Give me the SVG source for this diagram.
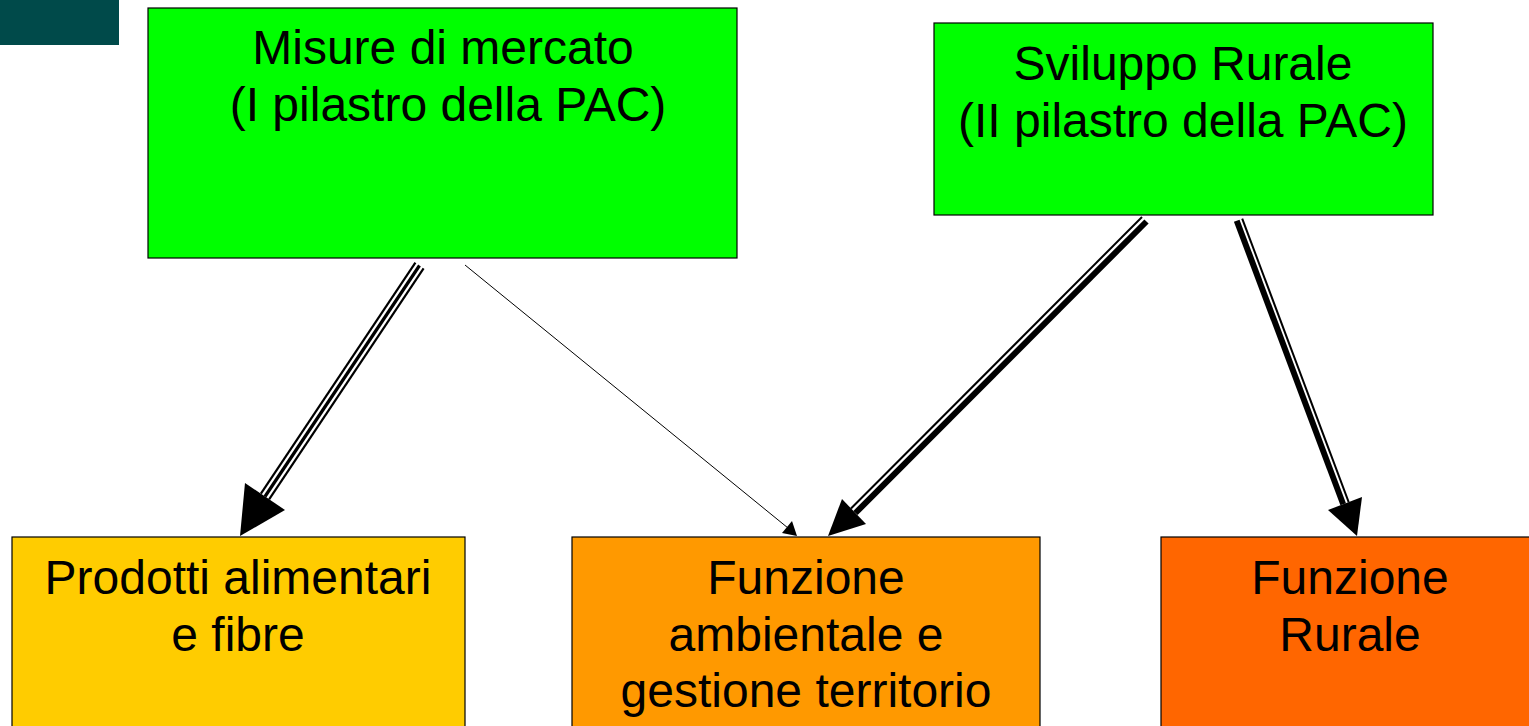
<svg xmlns="http://www.w3.org/2000/svg" width="1529" height="726" viewBox="0 0 1529 726">
<style>
.box{stroke:#000;stroke-width:1.2}
.t{font-family:"Liberation Sans",Arial,sans-serif;font-size:48px;fill:#000;text-anchor:middle}
.ln{stroke:#000;fill:none;stroke-linecap:butt}
</style>
<rect width="1529" height="726" fill="#fff"/>
<rect x="0" y="0" width="119" height="45" fill="#004a4a"/>
<g id="n1">
<rect class="box" x="148" y="8" width="589" height="250" fill="#00ff00"/>
<text class="t" x="443" y="64">Misure di mercato</text>
<text class="t" x="448" y="121">(I pilastro della PAC)</text>
</g>
<g id="n2">
<rect class="box" x="934" y="23" width="499" height="192" fill="#00ff00"/>
<text class="t" x="1183" y="80">Sviluppo Rurale</text>
<text class="t" x="1183" y="137">(II pilastro della PAC)</text>
</g>
<g id="n3">
<rect class="box" x="12" y="537" width="453" height="200" fill="#ffcc00"/>
<text class="t" x="238" y="594">Prodotti alimentari</text>
<text class="t" x="238" y="651">e fibre</text>
</g>
<g id="n4">
<rect class="box" x="572" y="537" width="468" height="200" fill="#ff9900"/>
<text class="t" x="806" y="594">Funzione</text>
<text class="t" x="806" y="651">ambientale e</text>
<text class="t" x="806" y="707">gestione territorio</text>
</g>
<g id="n5">
<rect class="box" x="1161" y="537" width="380" height="200" fill="#ff6600"/>
<text class="t" x="1350" y="594">Funzione</text>
<text class="t" x="1350" y="651">Rurale</text>
</g>
<g id="connectors">
<g id="c1">
<line class="ln" x1="415.4" y1="262.7" x2="260.9" y2="493.7" stroke-width="2.2"/>
<line class="ln" x1="419.5" y1="265.5" x2="265" y2="496.5" stroke-width="3.2"/>
<line class="ln" x1="423.6" y1="268.3" x2="269.1" y2="499.3" stroke-width="2.2"/>
<polygon points="240,536 245,483 285,510" fill="#000"/>
</g>
<g id="c2">
<line class="ln" x1="465" y1="265" x2="788" y2="528" stroke="#333" stroke-width="1"/>
<polygon points="797,536 782,533 792,521" fill="#000"/>
</g>
<g id="c3">
<line class="ln" x1="1142" y1="217" x2="851" y2="508.5" stroke-width="2"/>
<line class="ln" x1="1146.5" y1="221.5" x2="855.5" y2="513" stroke-width="6"/>
<polygon points="828,536 842,499 866,524" fill="#000"/>
</g>
<g id="c4">
<line class="ln" x1="1236.7" y1="220.7" x2="1343.2" y2="504.2" stroke-width="6"/>
<line class="ln" x1="1242.2" y1="218.6" x2="1348.7" y2="502.1" stroke-width="2"/>
<polygon points="1357,536 1328,510 1362,497" fill="#000"/>
</g>
</g>
</svg>
